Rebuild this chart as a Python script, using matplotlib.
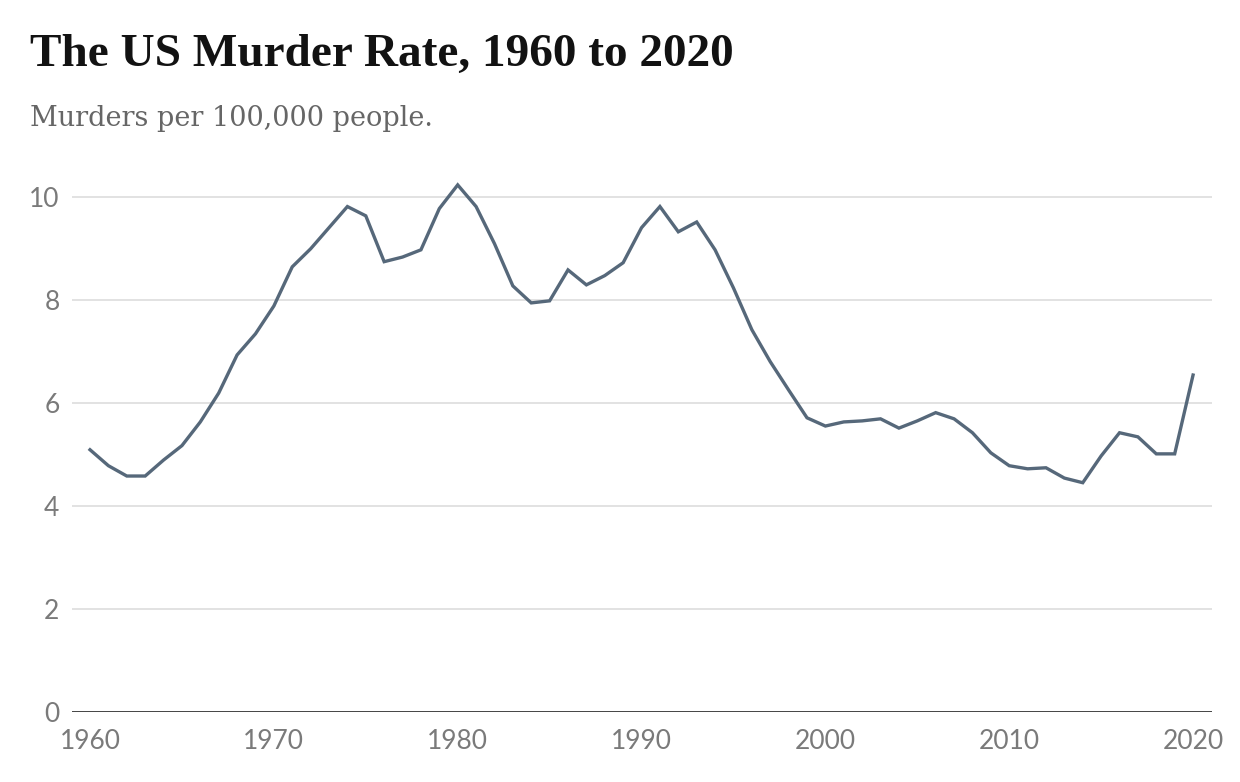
import matplotlib
matplotlib.use("Agg")
import matplotlib.pyplot as plt

years = list(range(1960, 2021))
rate = [5.09, 4.78, 4.58, 4.58, 4.89, 5.17, 5.63, 6.19, 6.93, 7.34,
        7.88, 8.64, 8.99, 9.40, 9.81, 9.63, 8.74, 8.83, 8.97, 9.77,
        10.23, 9.81, 9.09, 8.27, 7.94, 7.98, 8.58, 8.29, 8.47, 8.72,
        9.40, 9.81, 9.32, 9.51, 8.97, 8.23, 7.42, 6.80, 6.25, 5.71,
        5.55, 5.63, 5.65, 5.69, 5.51, 5.65, 5.81, 5.69, 5.42, 5.03,
        4.78, 4.72, 4.74, 4.54, 4.45, 4.97, 5.42, 5.34, 5.01, 5.01,
        6.54]
x_ticks = [1960, 1970, 1980, 1990, 2000, 2010, 2020]
y_ticks = [0, 2, 4, 6, 8, 10]

title = "The US Murder Rate, 1960 to 2020"
subtitle = "Murders per 100,000 people."

W, H = 1240, 782
fig = plt.figure(figsize=(W / 100, H / 100), dpi=100)
ax = fig.add_axes([72 / W, 1 - 712 / H, (1212 - 72) / W, (712 - 171) / H])

ax.set_xlim(1959.02, 2021.03)
ax.set_ylim(0, 10.5)

for yv in y_ticks[1:]:
    ax.axhline(yv, color="#e2e2e2", lw=1.4, zorder=1)
ax.axhline(0, color="#333333", lw=2.0, zorder=3)

ax.plot(years, rate, color="#56687a", lw=2.4, zorder=4, solid_joinstyle="miter", clip_on=False)

for s in ax.spines.values():
    s.set_visible(False)
ax.set_xticks(x_ticks)
ax.set_xticklabels([str(v) for v in x_ticks])
ax.set_yticks(y_ticks)
ax.set_yticklabels([str(v) for v in y_ticks])
ax.tick_params(axis="both", length=0, labelsize=19, labelcolor="#7a7a7a")
ax.tick_params(axis="y", pad=9.0)
ax.tick_params(axis="x", pad=12)
for lab in ax.get_xticklabels() + ax.get_yticklabels():
    lab.set_family("Lato")

fig.text(30 / W, 1 - 55 / H, title, fontsize=34, fontweight="bold",
         family="Liberation Serif", color="#121212", va="center", ha="left")
fig.text(30 / W, 1 - 118 / H, subtitle, fontsize=19.5,
         family="DejaVu Serif", color="#666666", va="center", ha="left")

fig.savefig("out.png", dpi=100, facecolor="white")
